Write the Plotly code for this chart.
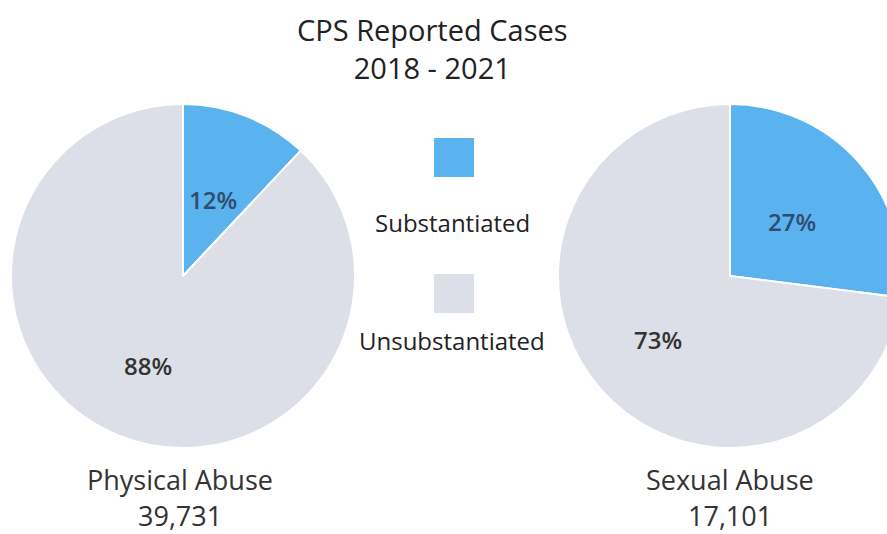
import math
import plotly.graph_objects as go

# ---- data ----
title_lines = ["CPS Reported Cases", "2018 - 2021"]
categories = ["Substantiated", "Unsubstantiated"]
colors = ["#5AB3EE", "#DCDFE8"]
physical_pct = [12, 88]
sexual_pct = [27, 73]
pie_names = ["Physical Abuse", "Sexual Abuse"]
pie_totals = ["39,731", "17,101"]

W, H = 905, 534
FONT = "Open Sans"
pct_colors = ["#2E4D70", "#333333"]
label_radius = [0.48, 0.56]

def px(x):
    return x / W

def py(y):
    return 1 - y / H

fig = go.Figure()

def add_pie(vals, cx, cy, r, name):
    fig.add_trace(go.Pie(
        labels=categories, values=vals, sort=False, direction="clockwise",
        rotation=0, marker=dict(colors=colors, line=dict(color="white", width=2)),
        textinfo="none",
        showlegend=False, hoverinfo="label+percent", name=name,
        domain=dict(x=[px(cx - r), px(cx + r)], y=[py(cy + r), py(cy - r)]),
    ))
    # percentage labels placed at each slice's mid-angle
    total = sum(vals)
    start = 0.0
    for i, v in enumerate(vals):
        mid = (start + v / 2) / total * 2 * math.pi
        start += v
        fr = label_radius[i] * r
        lx = cx + fr * math.sin(mid)
        ly = cy - fr * math.cos(mid)
        fig.add_annotation(text=f"{v}%", x=px(lx), y=py(ly), xref="paper", yref="paper",
                           showarrow=False, xanchor="center", yanchor="middle",
                           font=dict(family=FONT, size=24, color=pct_colors[i], weight=600))

add_pie(physical_pct, 183, 276, 172, pie_names[0])
add_pie(sexual_pct, 730, 276, 172, pie_names[1])

# title
fig.add_annotation(text="<br>".join(title_lines), x=px(432), y=py(48), xref="paper", yref="paper",
                   showarrow=False, font=dict(family=FONT, size=29, color="#222"),
                   xanchor="center", yanchor="middle")

# pie captions (name and total as separate single-line texts)
for name, total, cx in zip(pie_names, pie_totals, [180, 730]):
    fig.add_annotation(text=name, x=px(cx), y=py(479), xref="paper", yref="paper",
                       showarrow=False, font=dict(family=FONT, size=27, color="#333"),
                       xanchor="center", yanchor="middle", borderpad=0)
    fig.add_annotation(text=total, x=px(cx), y=py(515), xref="paper", yref="paper",
                       showarrow=False, font=dict(family=FONT, size=27, color="#333"),
                       xanchor="center", yanchor="middle", borderpad=0)

# legend (swatches + labels)
sw_tops = [138, 274]
lbl_y = [222, 340]
for i, (cat, col) in enumerate(zip(categories, colors)):
    top = sw_tops[i]
    fig.add_shape(type="rect", xref="paper", yref="paper",
                  x0=px(434), x1=px(474), y0=py(top + 39), y1=py(top),
                  fillcolor=col, line=dict(width=0))
    fig.add_annotation(text=cat, x=px(452), y=py(lbl_y[i]), xref="paper", yref="paper",
                       showarrow=False, font=dict(family=FONT, size=24, color="#222"),
                       xanchor="center", yanchor="middle")

fig.update_layout(width=W, height=H, margin=dict(l=0, r=0, t=0, b=0),
                  paper_bgcolor="white", plot_bgcolor="white")

fig.write_html("out.html", config={"displayModeBar": False},
               post_script="document.body.style.margin='0';document.body.style.overflow='hidden';")
